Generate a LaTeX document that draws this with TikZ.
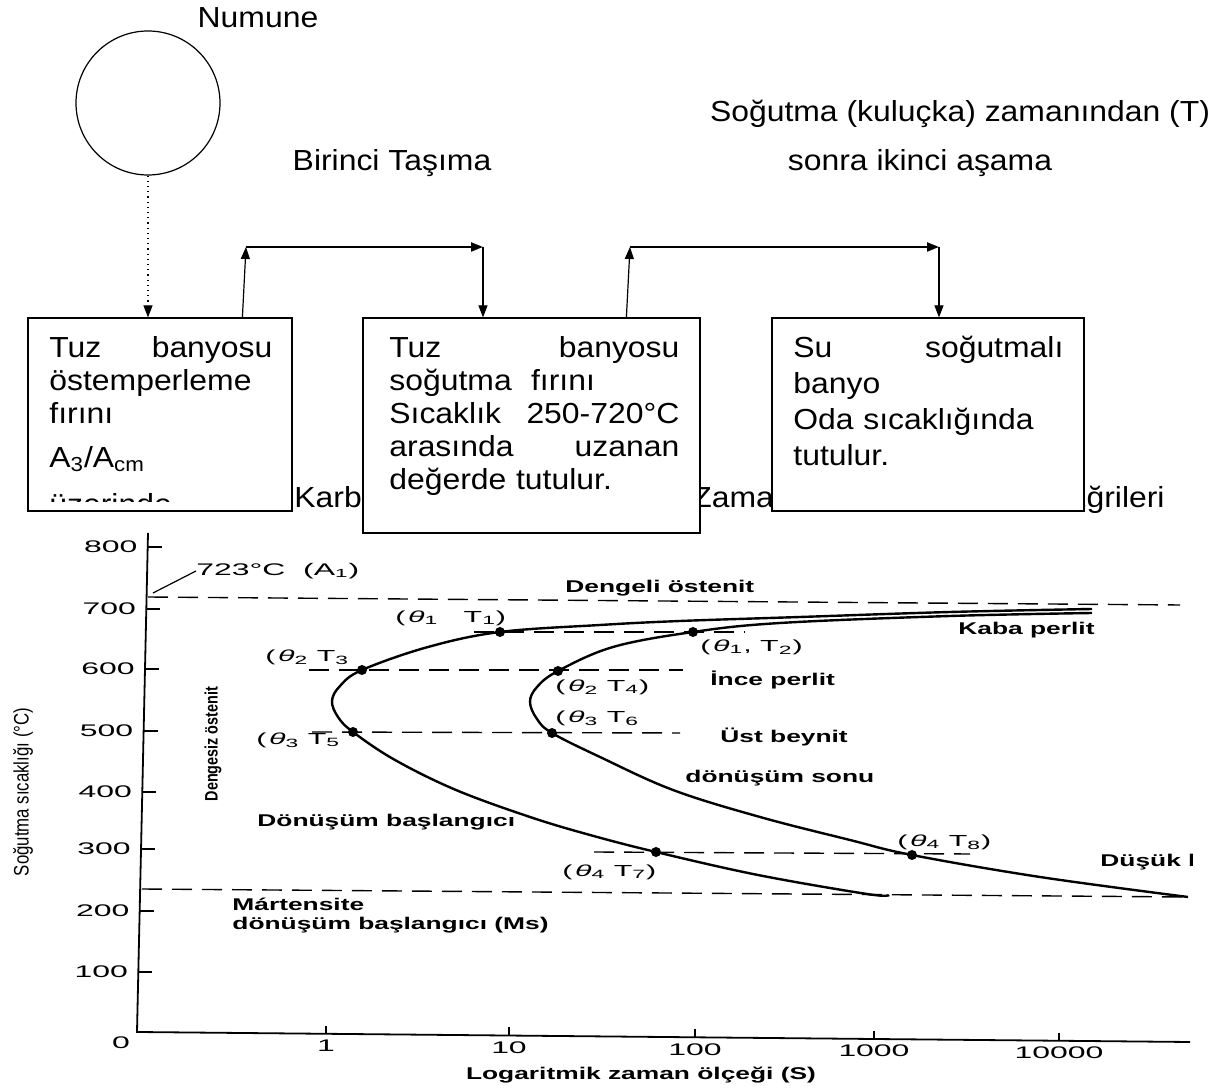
\documentclass[tikz,border=0pt]{standalone}
\usepackage{fontspec}
\setmainfont{Liberation Sans}
\newfontfamily\diagfont[FakeStretch=1.1]{Liberation Sans}
\newfontfamily\tickfont[FakeStretch=1.9]{Liberation Sans}
\newfontfamily\lblfont[FakeStretch=1.55]{Liberation Sans}
\newfontfamily\narrowfont[FakeStretch=0.8]{Liberation Sans}
\usetikzlibrary{arrows.meta,calc}
\begin{document}
\begin{tikzpicture}[x=0.5pt,y=-0.5pt,
  dtext/.style={font=\diagfont\fontsize{14.5}{16.5}\selectfont, inner sep=0pt},
  boxnode/.style={draw, line width=0.6pt, fill=white, inner sep=0pt},
  tri/.style={-{Triangle[length=6pt,width=4.5pt]}},
  conn/.style={line width=0.6pt},
  hconn/.style={line width=1pt},
  dline/.style={dash pattern=on 10pt off 5pt, line width=0.7pt},
  curve/.style={line width=1.2pt},
  ax/.style={line width=0.9pt},
  dotnode/.style={circle, fill, inner sep=0pt, minimum size=5pt},
  ticklbl/.style={font=\tickfont\fontsize{8.4}{10}\selectfont, inner sep=0pt},
  ptlbl/.style={font=\tickfont\fontsize{8}{10}\selectfont, inner sep=0pt, anchor=west},
  plbl/.style={font=\lblfont\bfseries\fontsize{8.5}{10}\selectfont, inner sep=0pt, anchor=west}]
\useasboundingbox (0,0) rectangle (1217,1090);
\fill[white] (0,0) rectangle (1217,1090);

% ---------------- upper process diagram ----------------
\node[dtext] (numune) at (258,18) {Numune};
\node[draw, circle, minimum size=72pt, inner sep=0pt, line width=0.6pt] (sample) at (148,103) {};
\node[dtext] (birinci) at (392,163) {Birinci Taşıma};
\node[dtext] (sog1) at (960,114) {Soğutma (kuluçka) zamanından (T)};
\node[dtext] (sog2) at (920,163) {sonra ikinci aşama};

% title line partly hidden behind the boxes
\node[dtext, anchor=base west] (tk) at (294,508) {Karbon};
\node[dtext, anchor=base west] (tz) at (692,508) {Zaman};
\node[dtext, anchor=base east] (te) at (1165,508) {Eğrileri};

\node[boxnode, minimum width=132pt, minimum height=96.5pt] (box1) at (160,414.5) {};
\node[boxnode, minimum width=168.5pt, minimum height=107.5pt] (box2) at (531.5,425.5) {};
\node[boxnode, minimum width=156pt, minimum height=96.5pt] (box3) at (928,414.5) {};

\begin{scope}
\clip (box1.north west) rectangle ($(box1.south east)+(0,-10)$);
\node[dtext, text width=111.5pt, align=left, anchor=north west] (t1) at (49,334)
 {\strut Tuz\hfill banyosu\\ östemperleme\\ fırını\\[5.5pt] A\textsubscript{3}/A\textsubscript{cm}\\[7pt] üzerinde};
\end{scope}
\node[dtext, text width=145pt, align=left, anchor=north west] (t2) at (389,334)
 {\strut Tuz\hfill banyosu\\ soğutma\ \ fırını\\ Sıcaklık\hfill 250-720°C\\ arasında\hfill uzanan\\ değerde tutulur.};
\node[dtext, text width=135pt, align=left, anchor=north west, font=\diagfont\fontsize{14.5}{18}\selectfont] (t3) at (793,332)
 {\strut Su\hfill soğutmalı\\ banyo\\ Oda sıcaklığında\\ tutulur.};

\coordinate (c1) at (246,247);
\coordinate (c2) at (483,247);
\coordinate (c3) at (630,247);
\coordinate (c4) at (939,247);
\draw[conn, dotted, tri] (sample.south) -- (sample.south |- box1.north);
\draw[conn, tri] ([xshift=107.5pt]box1.north west) -- (c1);
\draw[hconn, tri] (c1) -- (c2);
\draw[conn, tri] (c2) -- (c2 |- box2.north);
\draw[conn, tri] ([xshift=132pt]box2.north west) -- (c3);
\draw[hconn, tri] (c3) -- (c4);
\draw[conn, tri] (c4) -- (c4 |- box3.north);

% ---------------- TTT plot ----------------
\coordinate (ytop) at (148,533);
\coordinate (orig) at (137,1032);
\coordinate (xend) at (1190,1042);
\draw[ax] (ytop) -- (orig) -- (xend);

\foreach \val/\yy/\xa in {800/547/147.7,700/609/146.3,600/669/145.0,500/731/143.6,400/792/142.3,300/849/141.0,200/911/139.7,100/972/138.3}{
  \draw[ax] (\xa,\yy) -- ++(14,0);
  \node[ticklbl, anchor=east] (yl\val) at (\xa-10,\yy) {\val};
}
\node[ticklbl] (yl0) at (121,1043) {0};
\foreach \lab/\xx/\yy in {1/326/1034,10/509/1035.5,100/695/1037.3,1000/874/1039,10000/1059/1040.8}{
  \draw[ax] (\xx,\yy) -- ++(0,-8);
  \node[ticklbl] (xl\lab) at (\xx,\yy+12) {\lab};
}

% axis titles
\node[plbl, anchor=center] (xtitle) at (641,1075) {Logaritmik zaman ölçeği (S)};
\node[rotate=90, inner sep=0pt, font=\narrowfont\fontsize{10.5}{12}\selectfont] (ytitle) at (23,792) {Soğutma sıcaklığı (°C)};
\node[rotate=90, inner sep=0pt, font=\narrowfont\bfseries\fontsize{9}{10}\selectfont] (dengesiz) at (213,744) {Dengesiz östenit};

% A1 line and label
\draw[dline] (148,597) -- (1180,605);
\coordinate (lead) at (153,593);
\node[ticklbl, anchor=west] (a1) at (196,571) {723°C\ \ (A\textsubscript{1})};
\draw[line width=0.6pt] (lead) -- (a1.west);

% points
\coordinate (p1) at (500,632);
\coordinate (p2) at (693,632);
\coordinate (p3) at (362,670);
\coordinate (p4) at (558,671);
\coordinate (p5) at (353,732);
\coordinate (p6) at (552,733);
\coordinate (p7) at (656,852);
\coordinate (p8) at (912,855);

% dashed isotherms
\draw[dline] (474,632) -- (745,632);
\draw[dline] (309,670) -- (683,670);
\draw[dline] (312,732) -- (680,733);
\draw[dline] (594,852) -- (970,854);
\draw[dline] (142,889) -- (1188,897);

% curves
\draw[curve] plot[smooth, tension=0.6] coordinates {(1092,609) (950,612) (800,617) (680,621) (600,625) (p1) (428,647) (p3) (340,686) (332,701) (338,717) (p5) (395,760) (456,790) (530,817) (590,835) (p7) (758,875) (867,894) (889,895)};
\draw[curve] plot[smooth, tension=0.6] coordinates {(1092,613) (950,616) (780,623) (p2) (613,647) (p4) (537,687) (530,702) (537,719) (p6) (600,757) (673,790) (760,817) (850,840) (p8) (1040,877) (1188,897)};

\foreach \i in {1,...,8}{ \node[dotnode] (T\i) at (p\i) {}; }

% point labels
\node[ptlbl] (l1) at (395,618) {(\,{\itshape θ}\textsubscript{1}\ \ \ T\textsubscript{1})};
\node[ptlbl] (l2) at (700,647) {(\,{\itshape θ}\textsubscript{1},\ T\textsubscript{2})};
\node[ptlbl] (l3) at (265,657) {(\,{\itshape θ}\textsubscript{2}\ T\textsubscript{3}};
\node[ptlbl] (l4) at (555,687) {(\,{\itshape θ}\textsubscript{2}\ T\textsubscript{4})};
\node[ptlbl] (l6) at (555,718) {(\,{\itshape θ}\textsubscript{3}\ T\textsubscript{6}};
\node[ptlbl] (l5) at (256,740) {(\,{\itshape θ}\textsubscript{3}\ T\textsubscript{5}};
\node[ptlbl] (l7) at (562,872) {(\,{\itshape θ}\textsubscript{4}\ T\textsubscript{7})};
\node[ptlbl] (l8) at (897,842) {(\,{\itshape θ}\textsubscript{4}\ T\textsubscript{8})};

% region labels
\node[plbl] (dengeli) at (565,588) {Dengeli östenit};
\node[plbl] (kaba) at (958,630) {Kaba perlit};
\node[plbl] (ince) at (710,680) {İnce perlit};
\node[plbl] (ust) at (720,737) {Üst beynit};
\node[plbl] (sonu) at (685,778) {dönüşüm sonu};
\node[plbl] (basl) at (257,822) {Dönüşüm başlangıcı};
\node[plbl] (mart) at (232,904) {Mártensite};
\node[plbl] (ms) at (232,925) {dönüşüm başlangıcı (Ms)};
\begin{scope}
\clip (1090,840) rectangle (1192,885);
\node[plbl] (dusuk) at (1100,862) {Düşük beynit};
\end{scope}
\end{tikzpicture}
\end{document}
